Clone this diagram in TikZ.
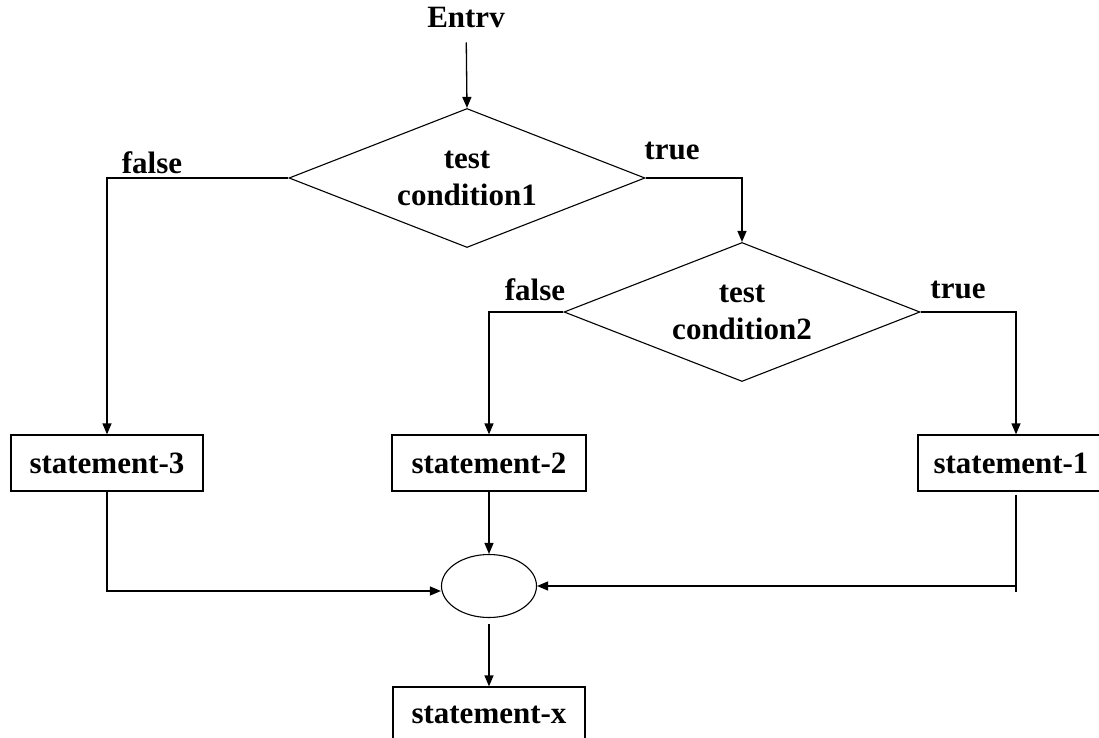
\documentclass[tikz,border=0pt]{standalone}
\usepackage{fontspec}
\setmainfont{Liberation Serif}
\usetikzlibrary{shapes.geometric,arrows.meta}
\begin{document}
\begin{tikzpicture}[x=1pt,y=-1pt,
  every node/.style={font=\fontsize{31}{37}\selectfont\bfseries},
  conn/.style={line width=1.3pt},
  arr/.style={conn,-{Triangle[length=11pt,width=9pt]}},
  decision/.style={diamond,draw,line width=1.1pt,shape aspect=2.55,
    minimum width=356pt,minimum height=139pt,inner sep=0pt,align=center},
  stmt/.style={rectangle,draw,line width=1.3pt,minimum height=56pt,inner sep=0pt},
  lbl/.style={inner sep=0pt}]
\useasboundingbox (0,0) rectangle (1099,738);

% entry and the two tests
\node[lbl] (entry) at (466,18) {Entrv};
\node[decision] (d1) at (467,178) {test\\condition1};
\node[decision] (d2) at (742,312) {test\\condition2};

% statements
\node[stmt,minimum width=192pt] (s3) at (107,463) {statement-3};
\node[stmt,minimum width=194pt] (s2) at (489,463) {statement-2};
\node[stmt,minimum width=186pt] (s1) at (1011,463) {statement-1};
\node[ellipse,draw,line width=1.1pt,minimum width=95pt,minimum height=63pt,inner sep=0pt] (merge) at (489,586) {};
\node[stmt,minimum width=192pt] (sx) at (489,715) {statement-x};

% branch labels
\node[lbl] (f1) at (152,163) {false};
\node[lbl] (t1) at (672,151) {true};
\node[lbl] (f2) at (535,290) {false};
\node[lbl] (t2) at (958,290) {true};

\coordinate (tick) at (1016,592);
\coordinate (hj) at (1016,586);

% connectors
\draw[arr,shorten <=14pt] (entry) -- (d1.north);
\draw[arr] (d1.east) -| (d2.north);
\draw[arr] (d1.west) -| (s3.north);
\draw[arr] (d2.west) -| (s2.north);
\draw[arr] (d2.east) -| ([xshift=5pt]s1.north);
\draw[arr] (s3.south) |- ([yshift=-5pt]merge.west);
\draw[arr] (s2.south) -- (merge.north);
\draw[conn] ([xshift=5pt,yshift=-3pt]s1.south) -- (tick);
\draw[arr] (hj) -- (merge.east);
\draw[arr,shorten <=6pt] (merge.south) -- (sx.north);
\end{tikzpicture}
\end{document}
